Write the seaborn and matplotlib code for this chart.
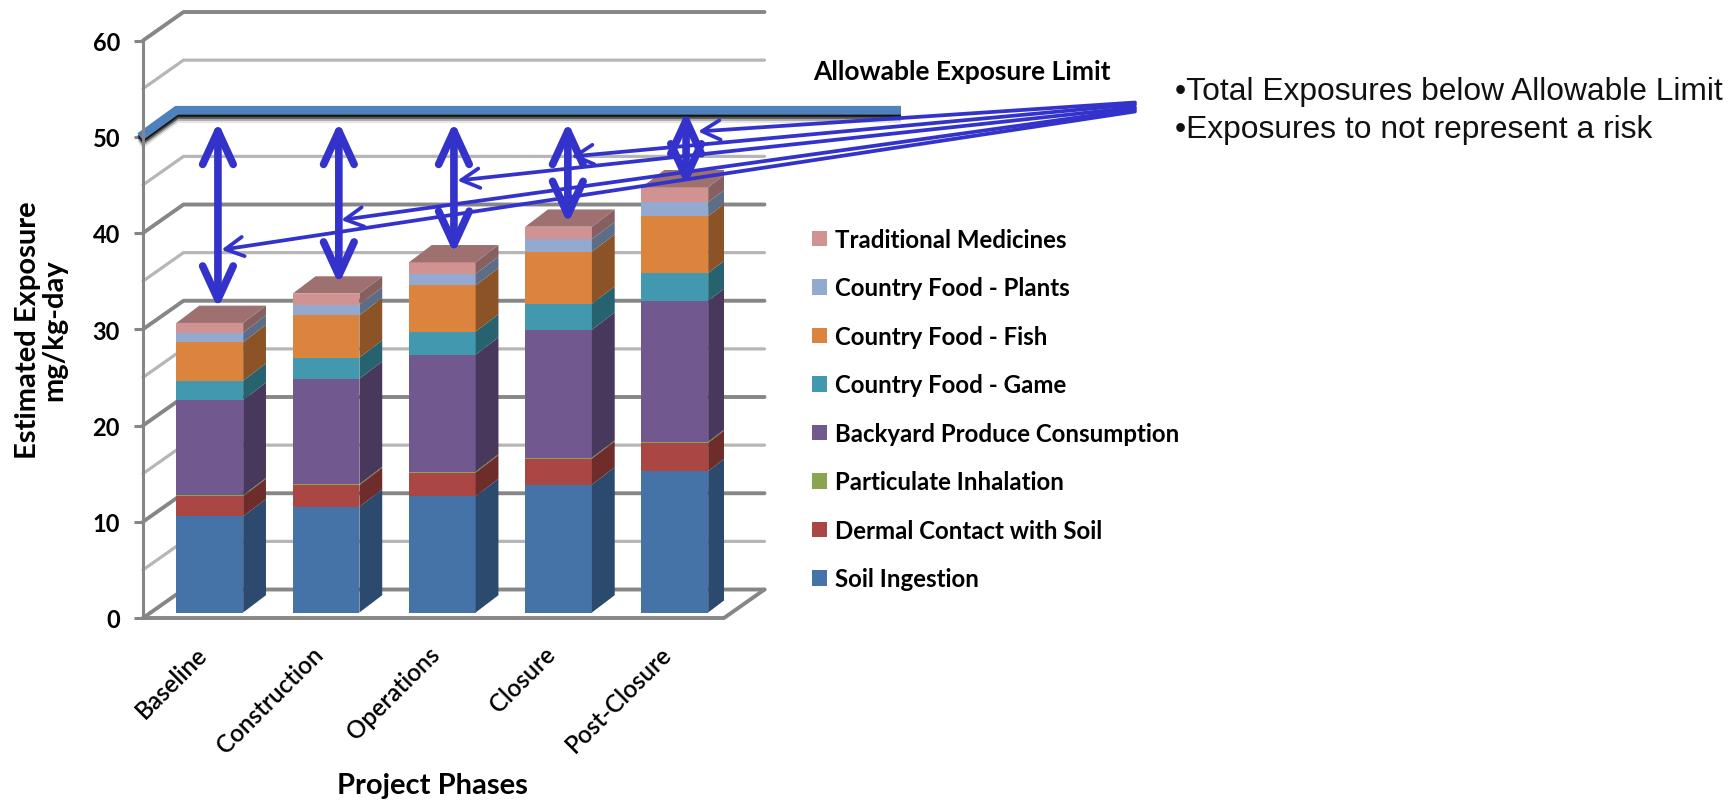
import matplotlib
matplotlib.use("Agg")
import matplotlib.pyplot as plt
import matplotlib.patheffects as pe
from matplotlib.patches import Polygon, Patch
from matplotlib.transforms import ScaledTranslation
import numpy as np
import seaborn as sns

phases = ["Baseline", "Construction", "Operations", "Closure", "Post-Closure"]
soil_ingestion = [10.0, 11.0, 12.1, 13.3, 14.7]
dermal_contact = [2.1, 2.25, 2.45, 2.7, 2.95]
particulate = [0.1, 0.1, 0.1, 0.1, 0.1]
backyard_produce = [9.9, 10.95, 12.15, 13.3, 14.65]
food_game = [2.0, 2.2, 2.4, 2.7, 2.9]
food_fish = [4.0, 4.4, 4.8, 5.4, 5.9]
food_plants = [1.0, 1.1, 1.2, 1.3, 1.45]
traditional_medicines = [1.0, 1.15, 1.2, 1.3, 1.55]

series_names = ["Soil Ingestion", "Dermal Contact with Soil", "Particulate Inhalation",
                "Backyard Produce Consumption", "Country Food - Game", "Country Food - Fish",
                "Country Food - Plants", "Traditional Medicines"]
series_values = [soil_ingestion, dermal_contact, particulate, backyard_produce,
                 food_game, food_fish, food_plants, traditional_medicines]
front_colors = ["#4572A7", "#AA4643", "#89A54E", "#71588F", "#4198AF", "#DB843D", "#93A9CF", "#D19392"]
side_colors = ["#2C4A6E", "#6E2D2B", "#596C32", "#47385C", "#27626F", "#8C5426", "#5E6D87", "#866060"]
top_color = "#9E7070"

allowable_limit = 50
arrow_offset = [0.07, 0.11, 0.10, 0.08, 0.097]
arrow_high = [51.0, 51.0, 51.0, 51.0, 52.1]
arrow_low = [31.6, 34.1, 37.3, 40.4, 44.3]
callout_y = [37.7, 40.8, 44.9, 47.4, 50.0]
callout_offset = [0.10, 0.13, 0.13, 0.11, 0.2]

sns.set_style("white")
plt.rcParams["font.family"] = ["Lato", "DejaVu Sans"]

W, H = 1732, 803
fig = plt.figure(figsize=(W / 100, H / 100), dpi=100, facecolor="white")

# Both axes share the rectangle of the chart's front plane
left, right, top, bottom = 143, 724, 41.5, 619
rect = [left / W, 1 - bottom / H, (right - left) / W, (bottom - top) / H]
ax_wall = fig.add_axes(rect, zorder=1)
ax = fig.add_axes(rect, zorder=2)
ax.patch.set_visible(False)

GRID_DARK, GRID_LIGHT = "#868686", "#B6B6B6"

# Wall and floor of the box: x runs 0..1 over the front edge, depth is a skew
ax_wall.set_xlim(0, 1)
ax_wall.set_ylim(0, 60)
wall_dx, wall_dy = 40.5 / (right - left), 2.96
for v in range(0, 65, 5):
    major = v % 10 == 0
    col = GRID_DARK if major else GRID_LIGHT
    lw = 2.8 if major else 2.3
    ax_wall.plot([0, wall_dx, 1 + wall_dx], [v, v + wall_dy, v + wall_dy],
                 color=col, lw=lw, clip_on=False, solid_capstyle="round", solid_joinstyle="round")
ax_wall.plot([0, 1, 1 + wall_dx], [0, 0, wall_dy], color=GRID_DARK, lw=2.8, clip_on=False,
             solid_capstyle="round")
for name, spine in ax_wall.spines.items():
    spine.set_visible(name == "left")
ax_wall.spines["left"].set_color(GRID_DARK)
ax_wall.spines["left"].set_linewidth(2.2)
ax_wall.set_xticks([])
ax_wall.set_yticks(range(0, 70, 10))
ax_wall.tick_params(axis="y", length=6.5, width=2.2, color=GRID_DARK, pad=10, labelsize=17,
                    labelcolor="black", left=True)
for lab in ax_wall.get_yticklabels():
    lab.set_fontweight("bold")
ax_wall.set_ylabel("Estimated Exposure\nmg/kg-day", fontsize=21, fontweight="bold",
                   linespacing=1.02, color="black")
ax_wall.yaxis.set_label_coords(-0.13, 0.50)

# Allowable limit ribbon with a soft shadow underneath
limit_x = [-0.005, 0.058, (901 - left) / (right - left)]
limit_y = [allowable_limit, allowable_limit + 2.75, allowable_limit + 2.75]
shadow = [pe.SimpleLineShadow(offset=(0, -k), shadow_color="black", alpha=a)
          for k, a in zip([1.5, 3, 4.5, 6], [0.75, 0.5, 0.25, 0.1])]
ax_wall.plot(limit_x, limit_y, color="#4F81BD", lw=6.3, clip_on=False, solid_joinstyle="miter",
             solid_capstyle="butt", path_effects=shadow + [pe.Normal()])

# Stacked front faces: tallest cumulative total first, shorter ones over it
cumulative = np.cumsum(np.array(series_values), axis=0)
bar_width = 0.574
for totals, colour in zip(cumulative[::-1], front_colors[::-1]):
    sns.barplot(x=phases, y=totals, order=phases, color=colour, saturation=1,
                width=bar_width, errorbar=None, ax=ax, zorder=3, linewidth=0)

ax.set_xlim((left - 209.8) / 116.25, (right - 209.8) / 116.25)
ax.set_ylim(-5.5 / 9.62, (613.5 - top) / 9.62)

# Skewed side and top faces of each column
depth_x, depth_y = 22.8 / 116.25, 17.3 / 9.62
for i in range(len(phases)):
    xl, xr = i - bar_width / 2, i + bar_width / 2
    base = 0.0
    for s, values in enumerate(series_values):
        t = base + values[i]
        ax.add_patch(Polygon([(xr, base), (xr + depth_x, base + depth_y),
                              (xr + depth_x, t + depth_y), (xr, t)],
                             closed=True, fc=side_colors[s], ec="none", zorder=3))
        base = t
    ax.add_patch(Polygon([(xl, base), (xr, base), (xr + depth_x, base + depth_y),
                          (xl + depth_x, base + depth_y)],
                         closed=True, fc=top_color, ec="none", zorder=3))

for spine in ax.spines.values():
    spine.set_visible(False)
ax.set_yticks([])
ax.set_ylabel("")
ax.set_xticks(range(len(phases)))
ax.set_xticklabels(phases, rotation=45, ha="right", va="top", rotation_mode="anchor",
                   fontsize=17.5, fontweight="semibold", color="black")
ax.tick_params(axis="x", length=0, pad=17)
label_nudge = ScaledTranslation(-15 / 100, 0, fig.dpi_scale_trans)
for lab in ax.get_xticklabels():
    lab.set_transform(lab.get_transform() + label_nudge)
ax.set_xlabel("Project Phases", fontsize=21, fontweight="bold", color="black")
ax.xaxis.set_label_coords((432 - left) / (right - left), -(786 - bottom) / (bottom - top))
ax.xaxis.label.set_va("center")

# Callouts and the margin arrows between each total and the limit
ARROW = "#3333CC"
for i in range(len(phases)):
    x = i + arrow_offset[i]
    ax.annotate("", xy=(x, arrow_low[i]), xytext=(x, arrow_high[i]), annotation_clip=False,
                arrowprops=dict(arrowstyle="<->,head_length=24,head_width=11", mutation_scale=1,
                                color=ARROW, lw=5.5, shrinkA=0, shrinkB=0), zorder=6)
origin_x = (1135 - 209.8) / 116.25
origin_y = [(613 - p) / 9.62 for p in (112, 110, 108, 105, 103)]
for i in range(len(phases)):
    ax.annotate("", xy=(i + callout_offset[i], callout_y[i]), xytext=(origin_x, origin_y[i]),
                annotation_clip=False,
                arrowprops=dict(arrowstyle="->,head_length=13,head_width=7", mutation_scale=1,
                                color=ARROW, lw=2.7, shrinkA=0, shrinkB=0), zorder=7)

# Legend, listed from the top of the stack down
handles = [Patch(fc=c, ec="none", label=n) for n, c in zip(series_names[::-1], front_colors[::-1])]
ax.legend(handles=handles, frameon=False, loc="upper left", prop={"size": 17.3, "weight": "bold"},
          labelcolor="black", bbox_to_anchor=(812 / W, 1 - 229 / H), bbox_transform=fig.transFigure,
          borderpad=0, borderaxespad=0, labelspacing=1.06,
          handlelength=0.63, handleheight=0.63, handletextpad=0.34)

fig.text(813 / W, 1 - 72.5 / H, "Allowable Exposure Limit", fontsize=19, fontweight="bold",
         ha="left", va="center", color="black")
for y, note in zip([92, 130], ["•Total Exposures below Allowable Limit",
                               "•Exposures to not represent a risk"]):
    fig.text(1175 / W, 1 - y / H, note, fontsize=22.9, family="Liberation Sans",
             ha="left", va="center", color="#111111")

fig.savefig("out.png", dpi=100)
